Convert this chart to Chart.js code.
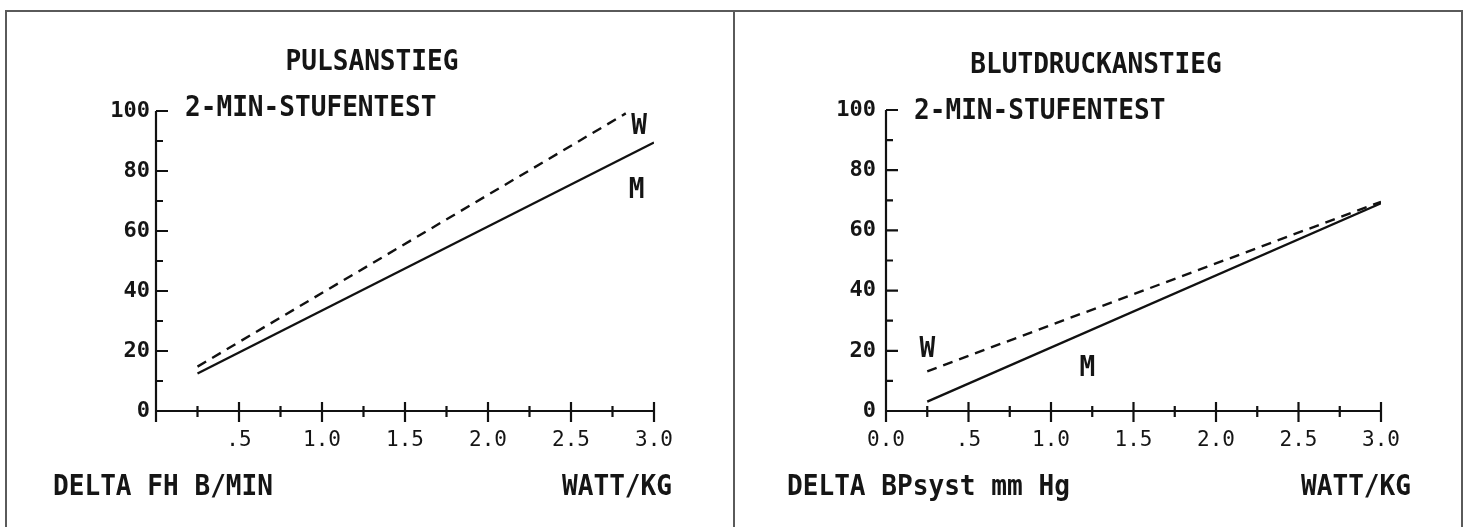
<!DOCTYPE html>
<html>
<head>
<meta charset="utf-8">
<script src="https://cdn.jsdelivr.net/npm/chart.js@4"></script>
<style>
  body { margin: 0; background: #fff; }
  #page { position: relative; width: 1464px; height: 527px; overflow: hidden; background: #fff; }
  canvas { position: absolute; top: 0; }
  .frame { position: absolute; top: 10px; height: 520px; border: 2px solid #5a5a5a; border-bottom: none; pointer-events: none; }
</style>
</head>
<body>
<div id="page">
  <canvas id="puls" width="734" height="527" style="left:0"></canvas>
  <canvas id="blut" width="730" height="527" style="left:734px"></canvas>
  <div class="frame" style="left:5px;width:726px"></div>
  <div class="frame" style="left:733px;width:726px"></div>
</div>
<script>
//DATOS
const xTicks = [0, 0.5, 1, 1.5, 2, 2.5, 3];
const xMinorTicks = [0.25, 0.75, 1.25, 1.75, 2.25, 2.75];
const yTicks = [0, 20, 40, 60, 80, 100];
const yMinorTicks = [10, 30, 50, 70, 90];
const yTickLabels = ['0', '20', '40', '60', '80', '100'];
const pulsXLabels = ['', '.5', '1.0', '1.5', '2.0', '2.5', '3.0'];
const blutXLabels = ['0.0', '.5', '1.0', '1.5', '2.0', '2.5', '3.0'];

// Pulsanstieg (Delta FH, Schlaege/min) ueber Watt/kg
const pulsMannX = [0.25, 3.0];
const pulsMann = [12.5, 89.5];
const pulsFrauX = [0.25, 2.83];
const pulsFrau = [14.8, 99.2];

// Blutdruckanstieg (Delta BP syst, mm Hg) ueber Watt/kg
const blutMannX = [0.25, 3.0];
const blutMann = [3.1, 69];
const blutFrauX = [0.25, 3.0];
const blutFrau = [13.2, 69.5];

// Kennzeichnung der Kurven (W / M) in Datenkoordinaten
const pulsMarkW = [2.91, 96];
const pulsMarkM = [2.895, 74.7];
const blutMarkW = [0.25, 21.7];
const blutMarkM = [1.22, 15.3];
//DATOS

const textFont = 'bold 29px "DejaVu Sans Mono"';
const squeeze = 0.9;

function toPoints(xs, ys) { //arma los puntos {x,y}
    return xs.map((v, i) => ({ x: v, y: ys[i] }));
}

//PLUGINS
const plotAxes = { //dibuja los ejes al estilo plotter, ticks hacia adentro
    id: 'plotAxes',
    afterDatasetsDraw(chart) {
        const { ctx, scales: { x, y } } = chart;
        const x0 = x.getPixelForValue(x.min);
        const xEnd = x.getPixelForValue(x.max);
        const y0 = y.getPixelForValue(y.min);
        const yTop = y.getPixelForValue(y.max);
        ctx.save();
        ctx.strokeStyle = '#111';
        ctx.lineWidth = 2.2;
        ctx.beginPath();
        ctx.moveTo(x0, yTop);
        ctx.lineTo(x0, y0 + 11);
        ctx.moveTo(x0, y0);
        ctx.lineTo(xEnd + 1, y0);
        yTicks.forEach(v => {
            if (v === y.min) return;
            const py = y.getPixelForValue(v);
            ctx.moveTo(x0, py);
            ctx.lineTo(x0 + 12, py);
        });
        yMinorTicks.forEach(v => {
            const py = y.getPixelForValue(v);
            ctx.moveTo(x0, py);
            ctx.lineTo(x0 + 7, py);
        });
        xTicks.forEach(v => {
            if (v === x.min) return;
            const px = x.getPixelForValue(v);
            ctx.moveTo(px, y0 - 9);
            ctx.lineTo(px, y0 + 11);
        });
        xMinorTicks.forEach(v => {
            const px = x.getPixelForValue(v);
            ctx.moveTo(px, y0 - 5);
            ctx.lineTo(px, y0 + 6);
        });
        ctx.stroke();
        ctx.restore();
    }
};

function drawSqueezed(ctx, text, x, y, align) { //texto angosto tipo plotter
    ctx.save();
    ctx.translate(x, y);
    ctx.scale(squeeze, 1);
    ctx.textAlign = align;
    ctx.fillText(text, 0, 0);
    ctx.restore();
}

const plotText = { //titulos, nombres de ejes y marcas W / M
    id: 'plotText',
    afterDraw(chart, args, opts) {
        const { ctx, scales: { x, y } } = chart;
        ctx.save();
        ctx.fillStyle = '#151515';
        ctx.font = textFont;
        ctx.textBaseline = 'alphabetic';
        opts.items.forEach(t => drawSqueezed(ctx, t.text, t.x, t.y, t.align));
        opts.marks.forEach(m => {
            drawSqueezed(ctx, m.text, x.getPixelForValue(m.at[0]), y.getPixelForValue(m.at[1]) + 11, 'center');
        });
        ctx.restore();
    }
};
//PLUGINS

function makeChart(canvasId, cfg) { //crea cada grafico
    const dataset = (label, pts, dash) => ({
        label: label,
        data: pts,
        borderColor: '#111',
        borderWidth: 2.4,
        borderDash: dash,
        pointRadius: 0,
        fill: false,
        tension: 0
    });
    return new Chart(document.getElementById(canvasId), {
        type: 'line',
        data: {
            datasets: [
                dataset('W', cfg.frau, [10, 7]),
                dataset('M', cfg.mann, [])
            ]
        },
        options: {
            responsive: false,
            animation: false,
            events: [],
            layout: { padding: cfg.padding },
            plugins: {
                legend: { display: false },
                tooltip: { enabled: false },
                plotText: { items: cfg.items, marks: cfg.marks }
            },
            scales: {
                x: {
                    type: 'linear',
                    min: 0,
                    max: 3,
                    grid: { display: false, drawTicks: false },
                    border: { display: false },
                    afterBuildTicks: s => { s.ticks = xTicks.map(v => ({ value: v })); },
                    afterFit: s => { s.height = 60; s.paddingLeft = 0; s.paddingRight = 0; },
                    ticks: {
                        autoSkip: false,
                        maxRotation: 0,
                        padding: 17,
                        color: '#151515',
                        font: { family: 'DejaVu Sans Mono', size: 21 },
                        callback: (v, i) => cfg.xLabels[i]
                    }
                },
                y: {
                    min: 0,
                    max: 100,
                    grid: { display: false, drawTicks: false },
                    border: { display: false },
                    afterBuildTicks: s => { s.ticks = yTicks.map(v => ({ value: v })); },
                    afterFit: s => { s.width = cfg.yWidth; s.paddingTop = 0; s.paddingBottom = 0; },
                    ticks: {
                        autoSkip: false,
                        padding: cfg.yPad,
                        color: '#151515',
                        font: { family: 'DejaVu Sans Mono', size: 22, weight: 'bold' },
                        callback: (v, i) => yTickLabels[i]
                    }
                }
            }
        },
        plugins: [plotAxes, plotText]
    });
}

makeChart('puls', {
    mann: toPoints(pulsMannX, pulsMann),
    frau: toPoints(pulsFrauX, pulsFrau),
    xLabels: pulsXLabels,
    yWidth: 156,
    yPad: 6,
    padding: { left: 0, top: 111, right: 80, bottom: 56 },
    items: [
        { text: 'PULSANSTIEG', x: 372, y: 70, align: 'center' },
        { text: '2-MIN-STUFENTEST', x: 185, y: 116, align: 'left' },
        { text: 'DELTA FH B/MIN', x: 53, y: 495, align: 'left' },
        { text: 'WATT/KG', x: 672, y: 495, align: 'right' }
    ],
    marks: [
        { text: 'W', at: pulsMarkW },
        { text: 'M', at: pulsMarkM }
    ]
});

makeChart('blut', {
    mann: toPoints(blutMannX, blutMann),
    frau: toPoints(blutFrauX, blutFrau),
    xLabels: blutXLabels,
    yWidth: 152,
    yPad: 10,
    padding: { left: 0, top: 110, right: 83, bottom: 56 },
    items: [
        { text: 'BLUTDRUCKANSTIEG', x: 362, y: 73, align: 'center' },
        { text: '2-MIN-STUFENTEST', x: 180, y: 119, align: 'left' },
        { text: 'DELTA BPsyst mm Hg', x: 53, y: 495, align: 'left' },
        { text: 'WATT/KG', x: 677, y: 495, align: 'right' }
    ],
    marks: [
        { text: 'W', at: blutMarkW },
        { text: 'M', at: blutMarkM }
    ]
});
</script>
</body>
</html>
